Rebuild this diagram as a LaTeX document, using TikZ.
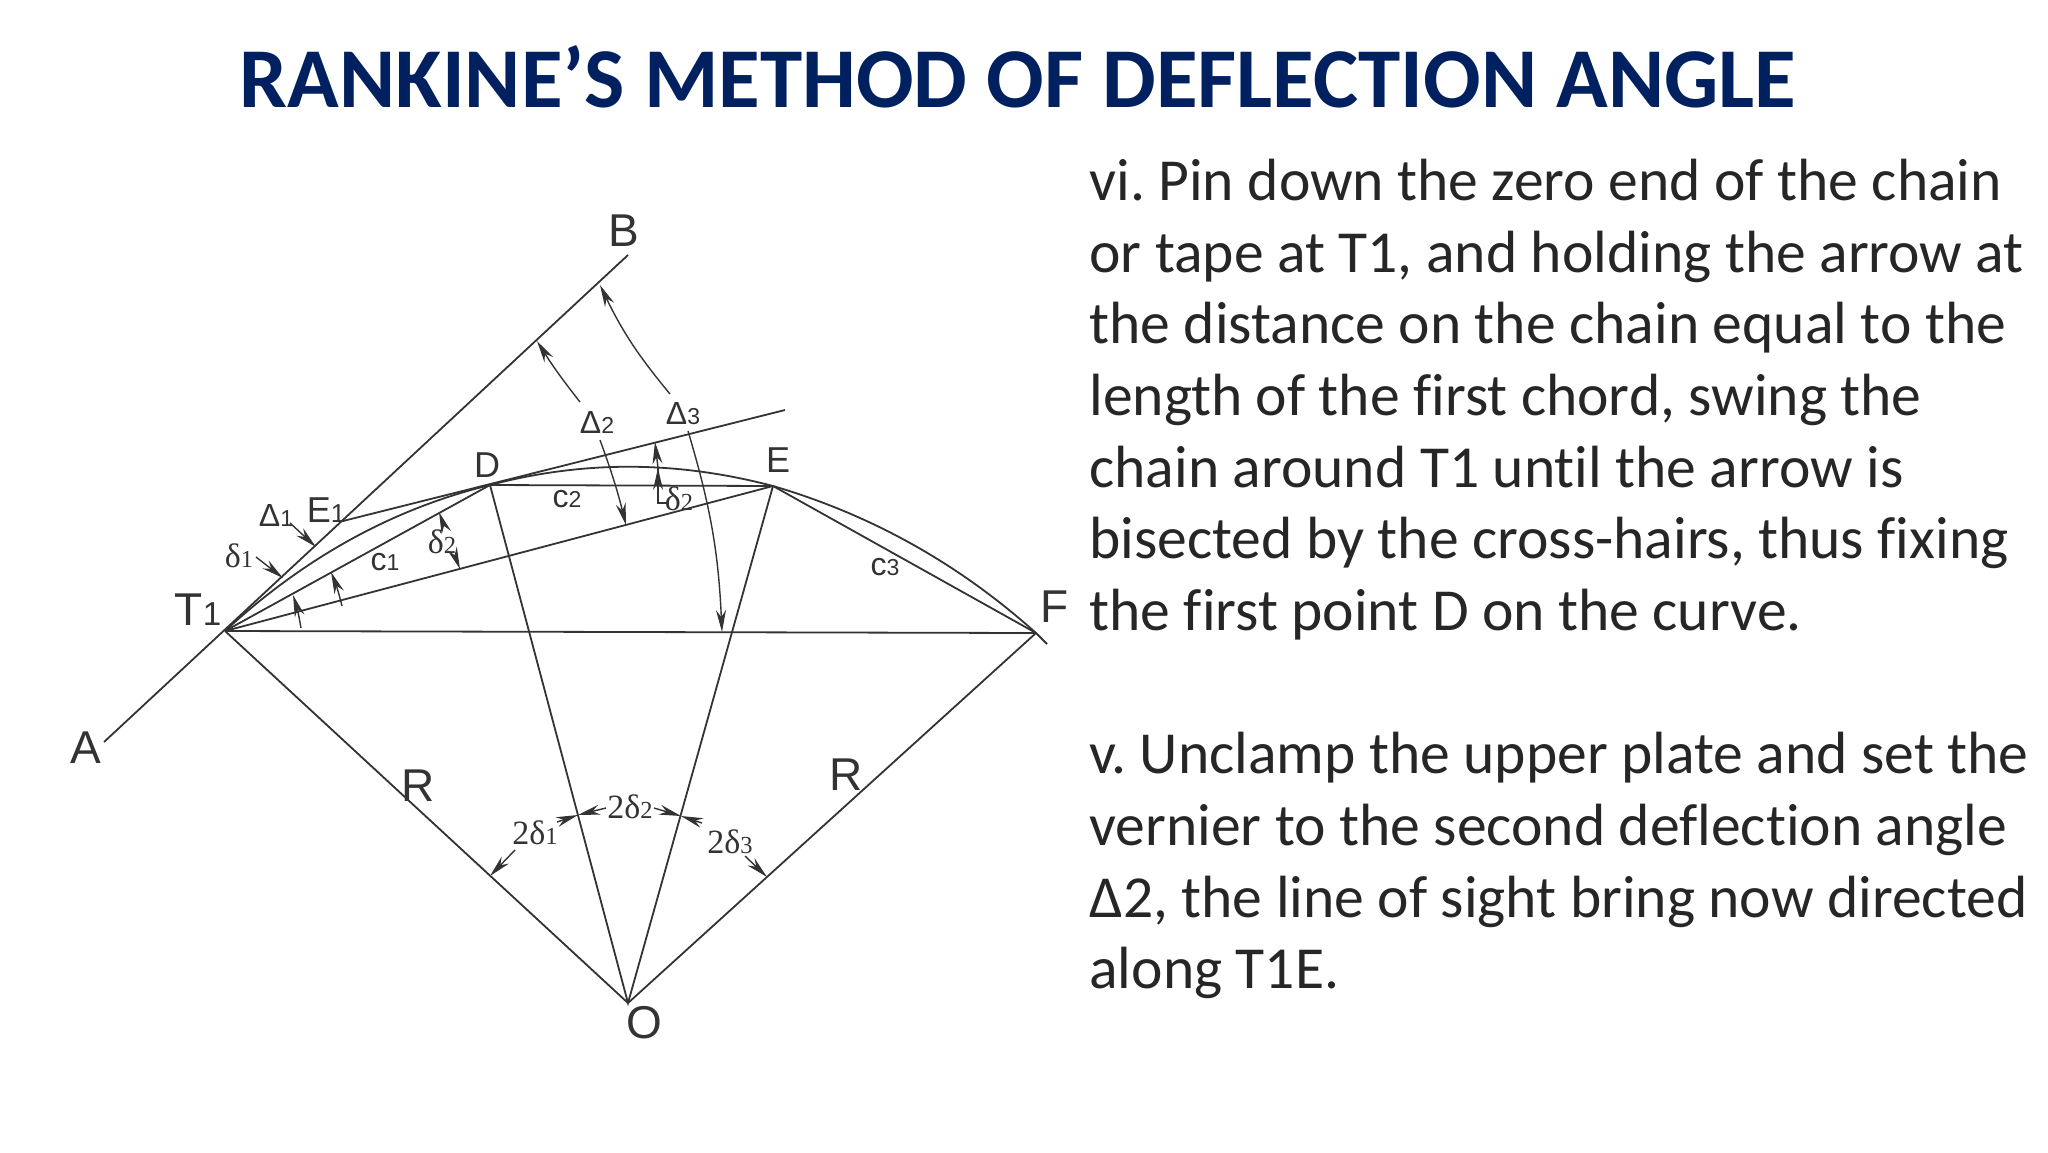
\documentclass[tikz,border=0pt]{standalone}
\usepackage{fontspec}
\setmainfont[Ligatures=NoCommon]{Carlito}
\newfontfamily\labelfont{Liberation Sans}
\newfontfamily\anglefont{Liberation Serif}
\usetikzlibrary{arrows.meta,positioning,calc}
\definecolor{titleblue}{HTML}{002060}
\definecolor{linegray}{HTML}{333333}
\newcommand{\subl}[1]{{\fontsize{0.72em}{1em}\selectfont #1}}
\frenchspacing
\begin{document}
\begin{tikzpicture}[
    x=0.5pt,
    y=-0.5pt,
    >={Stealth[length=11pt,width=5pt]},
    line/.style={
        draw=linegray,
        line width=0.9pt
    },
    dim/.style={
        draw=linegray,
        line width=0.7pt,
        ->
    },
    plain/.style={
        draw=linegray,
        line width=0.7pt
    },
    big/.style={
        font=\labelfont\fontsize{23}{23}\selectfont,
        text=linegray,
        inner sep=0pt
    },
    mid/.style={
        font=\labelfont\fontsize{18}{18}\selectfont,
        text=linegray,
        inner sep=0pt
    },
    small/.style={
        font=\labelfont\fontsize{16}{16}\selectfont,
        text=linegray,
        inner sep=0pt
    },
    angle/.style={
        font=\anglefont\fontsize{17}{17}\selectfont,
        text=linegray,
        inner sep=0pt
    },
    body/.style={
        font=\fontsize{29.8}{35.8}\selectfont,
        text=black!85,
        align=left,
        anchor=north west,
        inner sep=0pt
    }
    ]
    \useasboundingbox (0,0) rectangle (2048,1152);

    % title
    \node[font=\bfseries\fontsize{42.6}{42.6}\selectfont,text=titleblue] (title) at (1018,77) {RANKINE’S METHOD OF DEFLECTION ANGLE};

    % main points
    \coordinate (T1) at (225,631);
    \coordinate (D) at (490,485);
    \coordinate (E) at (773,486);
    \coordinate (F) at (1036,633);
    \coordinate (O) at (628,1003);
    \coordinate (E1) at (343,521);
    \coordinate (Aend) at (104,742);
    \coordinate (Bend) at (628,255);
    \coordinate (Tend) at (785,410);
    \coordinate (Fend) at (1047,644);

    \draw[line] (Aend) -- (Bend);
    \draw[line] (E1) -- (Tend);
    \draw[line] (T1) -- (D) -- (E) -- (F) -- (Fend);
    \draw[line] (T1) -- (E);
    \draw[line] (T1) -- (F);
    \draw[line] (T1) -- (O) -- (F);
    \draw[line] (D) -- (O) -- (E);
    \draw[line] (T1) .. controls (304,558) and (392,509) .. (D)
        .. controls (585,460) and (678,461) .. (E)
        .. controls (872,515) and (959,564) .. (F);

    % small angles at T1
    \coordinate (a1) at (301,628);
    \coordinate (a2) at (293,595);
    \coordinate (b1) at (342,606);
    \coordinate (b2) at (331,572);
    \coordinate (c0) at (455,556);
    \coordinate (c1) at (460,569);
    \coordinate (c3) at (444,526);
    \coordinate (c2) at (439,512);
    \coordinate (d1) at (256,557);
    \coordinate (d2) at (283,578);
    \coordinate (e1) at (290,523);
    \coordinate (e2) at (316,547);
    \draw[dim] (a1) to[bend right=4] (a2);
    \draw[dim] (b1) to[bend right=4] (b2);
    \draw[dim] (c0) -- (c1);
    \draw[dim] (c3) -- (c2);
    \draw[dim] (d1) -- (d2);
    \draw[dim] (e1) -- (e2);

    % large angles
    \coordinate (f1) at (580,402);
    \coordinate (f2) at (537,341);
    \coordinate (g1) at (600,440);
    \coordinate (g2) at (626,525);
    \coordinate (h1) at (670,394);
    \coordinate (h2) at (600,285);
    \coordinate (i1) at (688,431);
    \coordinate (i2) at (722,632);
    \draw[dim] (f1) to[bend left=3] (f2);
    \draw[dim] (g1) to[bend left=3] (g2);
    \draw[dim] (h1) to[bend left=7] (h2);
    \draw[dim] (i1) to[bend left=7] (i2);

    % small angle at D
    \coordinate (j1) at (669,503);
    \coordinate (j2) at (658,503);
    \coordinate (j3) at (658,468);
    \coordinate (j4) at (655,442);
    \coordinate (j5) at (658,492);
    \draw[plain] (j1) -- (j2) -- (j3);
    \draw[dim] (j5) -- (j3);
    \draw[dim] (j3) -- (j4);

    % angles at O
    \coordinate (k1) at (515,850);
    \coordinate (k2) at (490,876);
    \coordinate (l1) at (557,822);
    \coordinate (l2) at (578,815);
    \coordinate (l3) at (606,808);
    \coordinate (m1) at (702,823);
    \coordinate (m2) at (681,816);
    \coordinate (m3) at (654,808);
    \coordinate (n1) at (745,856);
    \coordinate (n2) at (767,877);
    \draw[dim] (k1) -- (k2);
    \draw[dim] (l1) -- (l2);
    \draw[dim] (l3) -- (l2);
    \draw[dim] (m3) -- (m2);
    \draw[dim] (m1) -- (m2);
    \draw[dim] (n1) -- (n2);

    % labels
    \node[big] (labelA) at (86,748) {A};
    \node[big] (labelB) at (624,231) {B};
    \node[big] (labelT) at (198,610) {T\subl{1}};
    \node[big] (labelF) at (1055,607) {F};
    \node[big] (labelO) at (644,1023) {O};
    \node[mid] (labelD) at (487,465) {D};
    \node[mid] (labelE) at (778,460) {E};
    \node[mid] (labelEone) at (326,510) {E\subl{1}};
    \node[big] (labelRone) at (418,786) {R};
    \node[big] (labelRtwo) at (846,775) {R};
    \node[small] (chordone) at (385,562) {c\subl{1}};
    \node[small] (chordtwo) at (567,499) {c\subl{2}};
    \node[small] (chordthree) at (885,567) {c\subl{3}};
    \node[small] (deltaone) at (276,515) {Δ\subl{1}};
    \node[small] (deltatwo) at (597,422) {Δ\subl{2}};
    \node[small] (deltathree) at (683,414) {Δ\subl{3}};
    \node[angle] (smallone) at (239,556) {δ\subl{1}};
    \node[angle] (smalltwo) at (442,542) {δ\subl{2}};
    \node[angle] (smallthree) at (679,499) {δ\subl{2}};
    \node[angle] (doubleone) at (535,833) {2δ\subl{1}};
    \node[angle] (doubletwo) at (630,807) {2δ\subl{2}};
    \node[angle] (doublethree) at (730,842) {2δ\subl{3}};

    % text
    \node[body] (stepsix) at (1089,159) {vi. Pin down the zero end of the chain\\
        or tape at T1, and holding the arrow at\\
        the distance on the chain equal to the\\
        length of the first chord, swing the\\
        chain around T1 until the arrow is\\
        bisected by the cross-hairs, thus fixing\\
        the first point D on the curve.};
    \node[body] (stepfive) at (1089,732) {v. Unclamp the upper plate and set the\\
        vernier to the second deflection angle\\
        Δ2, the line of sight bring now directed\\
        along T1E.};
\end{tikzpicture}
\end{document}
